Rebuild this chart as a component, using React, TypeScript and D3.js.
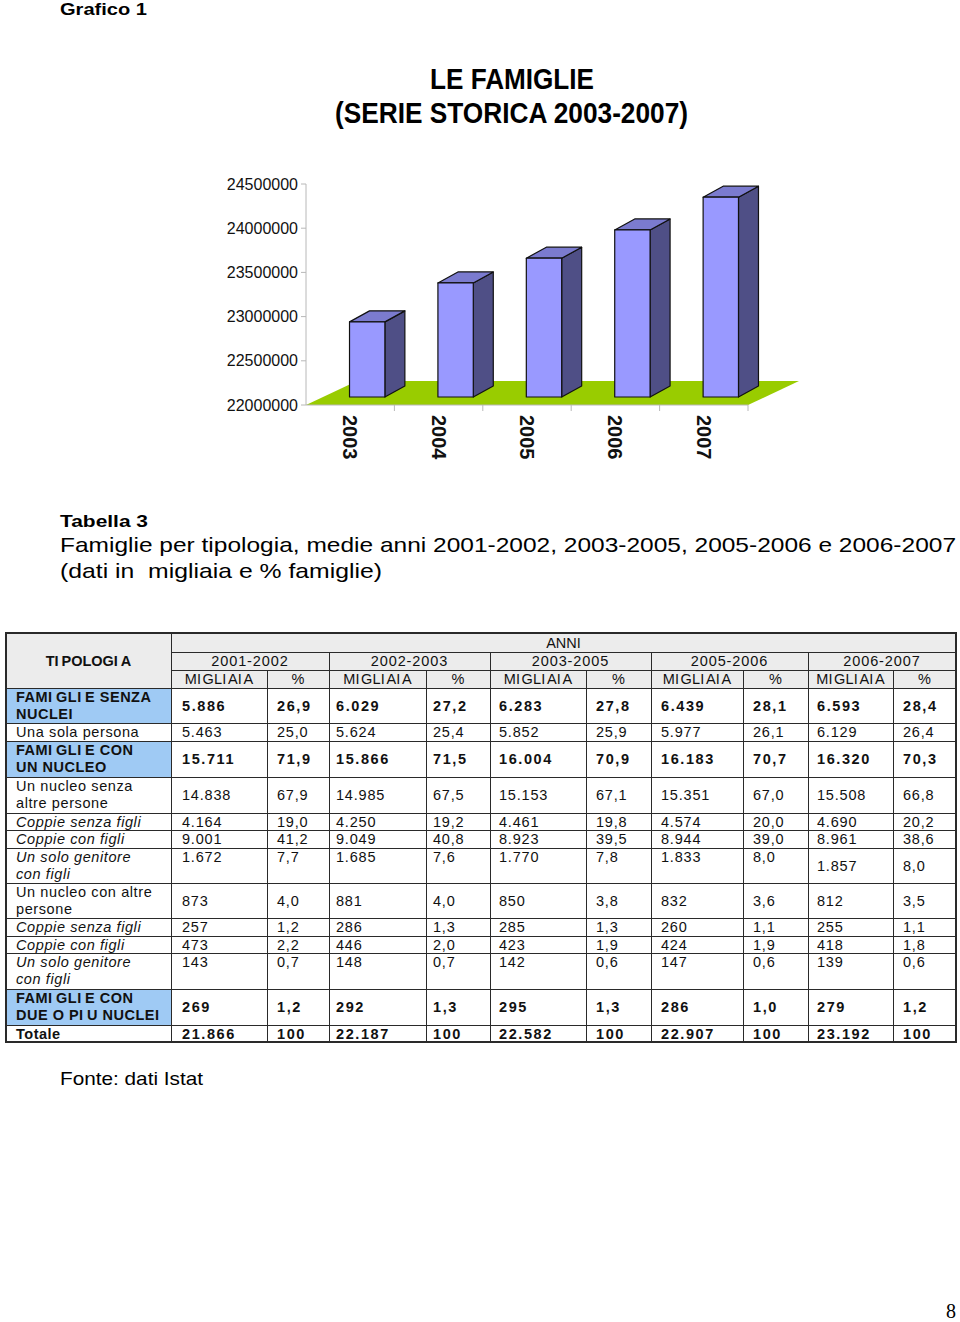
import React from 'react';
import * as d3 from 'd3';

// ---------- Chart data ----------
const years = ['2003', '2004', '2005', '2006', '2007'];
const famiglieTotali = [22850000, 23290000, 23570000, 23890000, 24260000];
const yTicks = [22000000, 22500000, 23000000, 23500000, 24000000, 24500000];

// ---------- Table data ----------
const periods = ['2001-2002', '2002-2003', '2003-2005', '2005-2006', '2006-2007'];
const subHeaders = ['MI\u200AGLI\u200AAI\u200AA', '%'];
const rowLabels: string[][] = [
  ['FAMI\u2009GLI\u2009E SENZA', 'NUCLEI'],
  ['Una sola persona'],
  ['FAMI\u2009GLI\u2009E CON', 'UN NUCLEO'],
  ['Un nucleo senza', 'altre persone'],
  ['Coppie senza figli'],
  ['Coppie con figli'],
  ['Un solo genitore', 'con figli'],
  ['Un nucleo con altre', 'persone'],
  ['Coppie senza figli'],
  ['Coppie con figli'],
  ['Un solo genitore', 'con figli'],
  ['FAMI\u2009GLI\u2009E CON', 'DUE O PI\u2009U NUCLEI'],
  ['Totale'],
];
const migliaia: number[][] = [
  [5886, 6029, 6283, 6439, 6593],
  [5463, 5624, 5852, 5977, 6129],
  [15711, 15866, 16004, 16183, 16320],
  [14838, 14985, 15153, 15351, 15508],
  [4164, 4250, 4461, 4574, 4690],
  [9001, 9049, 8923, 8944, 8961],
  [1672, 1685, 1770, 1833, 1857],
  [873, 881, 850, 832, 812],
  [257, 286, 285, 260, 255],
  [473, 446, 423, 424, 418],
  [143, 148, 142, 147, 139],
  [269, 292, 295, 286, 279],
  [21866, 22187, 22582, 22907, 23192],
];
const percentuali: number[][] = [
  [26.9, 27.2, 27.8, 28.1, 28.4],
  [25.0, 25.4, 25.9, 26.1, 26.4],
  [71.9, 71.5, 70.9, 70.7, 70.3],
  [67.9, 67.5, 67.1, 67.0, 66.8],
  [19.0, 19.2, 19.8, 20.0, 20.2],
  [41.2, 40.8, 39.5, 39.0, 38.6],
  [7.7, 7.6, 7.8, 8.0, 8.0],
  [4.0, 4.0, 3.8, 3.6, 3.5],
  [1.2, 1.3, 1.3, 1.1, 1.1],
  [2.2, 2.0, 1.9, 1.9, 1.8],
  [0.7, 0.7, 0.6, 0.6, 0.6],
  [1.2, 1.3, 1.3, 1.0, 1.2],
  [100, 100, 100, 100, 100],
];
const rowKinds = ['group', 'plain', 'group', 'plain', 'italic', 'italic', 'italic', 'plain', 'italic', 'italic', 'italic', 'group', 'total'];

// ---------- Layout ----------
const W = 960;
const H = 1322;
const FONT = "'Liberation Sans', Arial, sans-serif";
const NARROW = "'Liberation Sans Narrow', 'Liberation Sans', Arial, sans-serif";

const colX = [6, 171, 267, 329, 426, 490, 586, 651, 743, 808, 893, 956];
const rowY = [633, 652, 670, 688, 723, 741, 777, 813, 830, 848, 883, 918, 936, 953, 989, 1025, 1042];
const valueX = [182, 277, 336, 433, 499, 596, 661, 753, 817, 903];
const topAlignedRows = [6, 10];

const loc = d3.formatLocale({ decimal: ',', thousands: '.', grouping: [3], currency: ['€', ''] });
const fmtInt = loc.format(',d');
const fmtPct = loc.format('.1f');

export default function App() {
  const x = d3.scaleBand<string>().domain(years).range([306, 748]).padding(0);
  const y = d3.scaleLinear().domain([22000000, 24500000]).range([405, 184]);
  const bw = x.bandwidth();
  const barW = bw * 0.4;
  const floorD = { dx: 51, dy: -24 };
  const barOff = { dx: 17, dy: -8 };
  const barD = { dx: 20, dy: -11 };
  const y0 = y(22000000);
  const xL = x.range()[0];
  const xR = x.range()[1];

  const bars = years.map((yr, i) => {
    const x0 = (x(yr) as number) + (bw - barW) / 2 + barOff.dx;
    const x1 = x0 + barW;
    const yt = y(famiglieTotali[i]) + barOff.dy;
    const yb = y0 + barOff.dy;
    return { yr, x0, x1, yt, yb };
  });

  const ptsStr = (pts: number[][]) => pts.map((p) => p.join(',')).join(' ');

  const tableFs = 14.5;

  return (
    <svg width={W} height={H} viewBox={`0 0 ${W} ${H}`} style={{ position: 'absolute', left: 0, top: 0, background: '#fff' }}>
      <rect x={0} y={0} width={W} height={H} fill="#fff" />
      <text x={60} y={15} fontFamily={NARROW} fontWeight="bold" fontSize={17} textLength={87} lengthAdjust="spacingAndGlyphs">Grafico 1</text>
      <text x={430} y={89} fontFamily={NARROW} fontWeight="bold" fontSize={29} textLength={164} lengthAdjust="spacingAndGlyphs">LE FAMIGLIE</text>
      <text x={335} y={123} fontFamily={NARROW} fontWeight="bold" fontSize={29} textLength={353} lengthAdjust="spacingAndGlyphs">(SERIE STORICA 2003-2007)</text>

      {/* y axis */}
      <line x1={306} x2={306} y1={y(24500000)} y2={y0} stroke="#b8b8b8" strokeWidth={1} />
      {yTicks.map((t) => (
        <g key={t}>
          <line x1={301} x2={306} y1={y(t)} y2={y(t)} stroke="#b8b8b8" />
          <text x={298} y={y(t)} dy="0.35em" textAnchor="end" fontFamily={FONT} fontSize={16} fill="#111">{t}</text>
        </g>
      ))}
      {/* floor */}
      <polygon
        points={ptsStr([[xL, y0], [xR, y0], [xR + floorD.dx, y0 + floorD.dy], [xL + floorD.dx, y0 + floorD.dy]])}
        fill="#99cc00"
      />
      <line x1={xL} x2={xR} y1={y0} y2={y0} stroke="#b8b8b8" />
      {years.map((yr) => (
        <line key={'t' + yr} x1={(x(yr) as number) + bw} x2={(x(yr) as number) + bw} y1={y0} y2={y0 + 6} stroke="#b8b8b8" />
      ))}
      {/* bars */}
      {bars.map((b) => (
        <g key={b.yr} stroke="#111" strokeWidth={1.2} strokeLinejoin="round">
          <polygon points={ptsStr([[b.x1, b.yt], [b.x1 + barD.dx, b.yt + barD.dy], [b.x1 + barD.dx, b.yb + barD.dy], [b.x1, b.yb]])} fill="#4f4f86" />
          <polygon points={ptsStr([[b.x0, b.yt], [b.x1, b.yt], [b.x1 + barD.dx, b.yt + barD.dy], [b.x0 + barD.dx, b.yt + barD.dy]])} fill="#7b7bcf" />
          <rect x={b.x0} y={b.yt} width={barW} height={b.yb - b.yt} fill="#9999ff" />
        </g>
      ))}
      {/* x labels */}
      {years.map((yr) => (
        <text key={'l' + yr} transform={`translate(${(x(yr) as number) + bw / 2},415) rotate(90)`} dy="0.35em" fontFamily={FONT} fontWeight="bold" fontSize={20} fill="#111">{yr}</text>
      ))}

      {/* Table heading */}
      <text x={60} y={527} fontFamily={NARROW} fontWeight="bold" fontSize={17} textLength={88} lengthAdjust="spacingAndGlyphs">Tabella 3</text>
      <text x={60} y={552} fontFamily={NARROW} fontSize={21} textLength={896} lengthAdjust="spacingAndGlyphs">Famiglie per tipologia, medie anni 2001-2002, 2003-2005, 2005-2006 e 2006-2007</text>
      <text x={60} y={578} fontFamily={NARROW} fontSize={21} textLength={322} lengthAdjust="spacingAndGlyphs" xmlSpace="preserve">(dati in  migliaia e % famiglie)</text>

      {/* Table fills */}
      <rect x={colX[0]} y={rowY[0]} width={colX[11] - colX[0]} height={rowY[3] - rowY[0]} fill="#ececec" />
      {rowLabels.map((_, i) =>
        rowKinds[i] === 'group' ? (
          <rect key={'bl' + i} x={colX[0]} y={rowY[i + 3]} width={colX[1] - colX[0]} height={rowY[i + 4] - rowY[i + 3]} fill="#9fcaf4" />
        ) : null
      )}

      {/* Table lines */}
      <g stroke="#2a2a2a" strokeWidth={1} shapeRendering="crispEdges">
        <line x1={colX[1]} x2={colX[11]} y1={rowY[1]} y2={rowY[1]} />
        <line x1={colX[1]} x2={colX[11]} y1={rowY[2]} y2={rowY[2]} />
        {rowY.slice(3).map((yy, i) => (
          <line key={'h' + i} x1={colX[0]} x2={colX[11]} y1={yy} y2={yy} />
        ))}
        <line x1={colX[1]} x2={colX[1]} y1={rowY[0]} y2={rowY[16]} />
        {[3, 5, 7, 9].map((c) => (
          <line key={'vp' + c} x1={colX[c]} x2={colX[c]} y1={rowY[1]} y2={rowY[16]} />
        ))}
        {[2, 4, 6, 8, 10].map((c) => (
          <line key={'vs' + c} x1={colX[c]} x2={colX[c]} y1={rowY[2]} y2={rowY[16]} />
        ))}
        <rect x={colX[0]} y={rowY[0]} width={colX[11] - colX[0]} height={rowY[16] - rowY[0]} fill="none" strokeWidth={1.3} />
      </g>

      {/* Table header text */}
      <g fontFamily={FONT} fontSize={tableFs} fill="#111">
        <text x={(colX[0] + colX[1]) / 2} y={666} textAnchor="middle" fontWeight="bold">TI{'\u2009'}POLOGI{'\u2009'}A</text>
        <text x={(colX[1] + colX[11]) / 2} y={648} textAnchor="middle">ANNI</text>
        {periods.map((p, k) => (
          <text key={p} x={(colX[1 + 2 * k] + colX[3 + 2 * k]) / 2} y={666} textAnchor="middle" letterSpacing={0.9}>{p}</text>
        ))}
        {periods.map((p, k) =>
          subHeaders.map((s, j) => (
            <text key={p + s} x={(colX[1 + 2 * k + j] + colX[2 + 2 * k + j]) / 2} y={684} textAnchor="middle" letterSpacing={0.2}>{s}</text>
          ))
        )}
      </g>

      {/* Table body text */}
      <g fontFamily={FONT} fontSize={tableFs} fill="#111">
        {rowLabels.map((lines, i) => {
          const top = rowY[i + 3];
          const bottom = rowY[i + 4];
          const kind = rowKinds[i];
          const bold = kind === 'group' || kind === 'total';
          const italic = kind === 'italic';
          const mid = (top + bottom) / 2 + 5.2;
          const labelYs = lines.length === 1 ? [mid] : [top + 14, top + 31];
          return (
            <g key={'r' + i}>
              {lines.map((ln, li) => (
                <text key={li} x={16} y={labelYs[li]} fontWeight={bold ? 'bold' : 'normal'} fontStyle={italic ? 'italic' : 'normal'} letterSpacing={bold ? 0.5 : 0.6}>{ln}</text>
              ))}
              {periods.map((p, k) => {
                const topAligned = topAlignedRows.includes(i) && !(i === 6 && k === 4);
                const vy = topAligned ? top + 14 : mid;
                const pct = kind === 'total' ? String(percentuali[i][k]) : fmtPct(percentuali[i][k]);
                return (
                  <g key={p} fontWeight={bold ? 'bold' : 'normal'} letterSpacing={bold ? 1.6 : 0.8}>
                    <text x={valueX[2 * k]} y={vy}>{fmtInt(migliaia[i][k])}</text>
                    <text x={valueX[2 * k + 1]} y={vy}>{pct}</text>
                  </g>
                );
              })}
            </g>
          );
        })}
      </g>

      <text x={60} y={1085} fontFamily={NARROW} fontSize={19} textLength={143} lengthAdjust="spacingAndGlyphs">Fonte: dati Istat</text>
      <text x={946} y={1318} fontFamily="'Liberation Serif', 'DejaVu Serif', serif" fontSize={20}>8</text>
    </svg>
  );
}
